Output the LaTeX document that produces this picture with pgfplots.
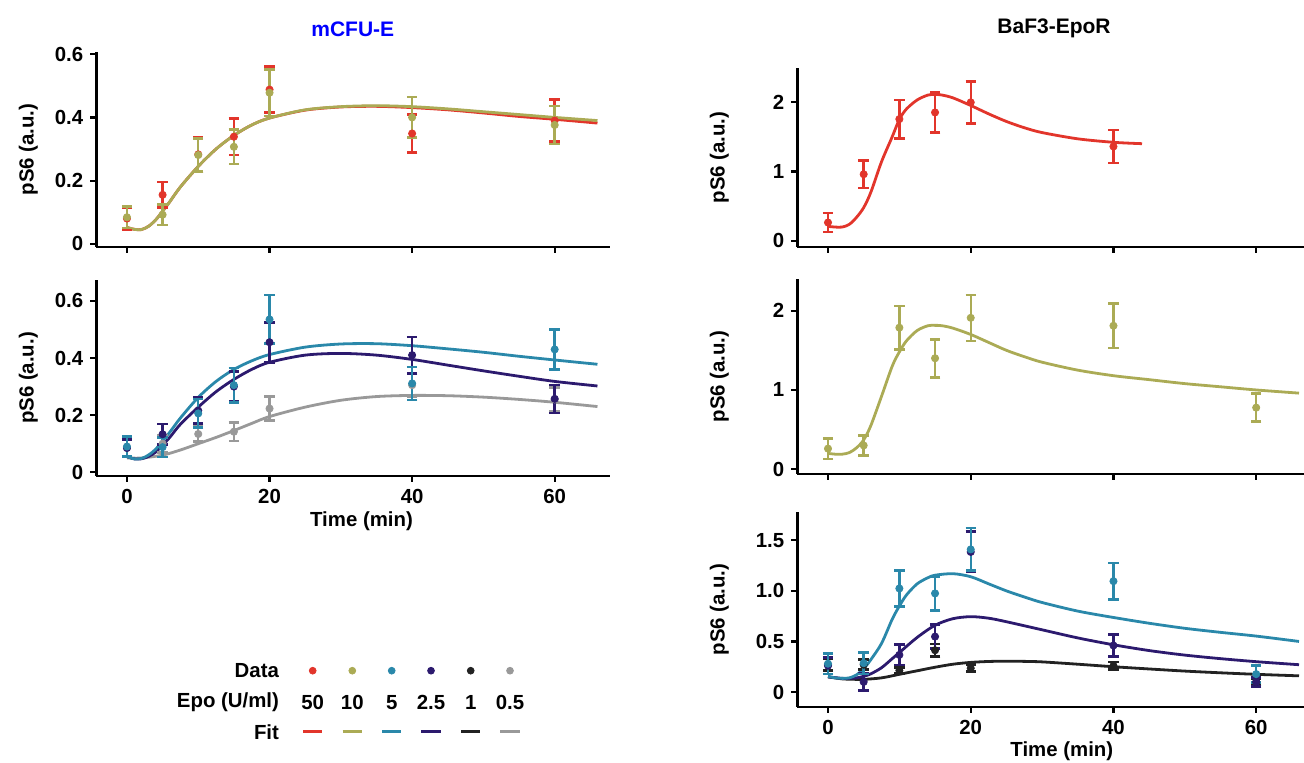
\documentclass[border=0pt]{standalone}
\usepackage{fontspec}
\setmainfont{Liberation Sans}
\usepackage{pgfplots}
\pgfplotsset{compat=1.18}
\definecolor{cR}{HTML}{E2352B}
\definecolor{cO}{HTML}{ABAB55}
\definecolor{cT}{HTML}{2A88AA}
\definecolor{cP}{HTML}{2C1A6E}
\definecolor{cK}{HTML}{222222}
\definecolor{cG}{HTML}{999999}
\newcommand{\fs}{\fontsize{10.2}{12}\selectfont\bfseries}
\newcommand{\ft}{\fontsize{10.5}{12}\selectfont\bfseries}
\pgfplotsset{
  panel/.style={
    scale only axis, axis lines*=left,
    axis line style={line width=1.4pt,-},
    xmin=-4.3, xtick={0,20,40,60},
    tick align=outside, major tick length=3pt,
    tick style={line width=1.1pt,black},
    ticklabel style={font=\fs},
    label style={font=\fs},
    clip=false,
  },
  dat/.style={only marks, mark=*, mark size=1.8pt, color=#1,
    error bars/.cd, y dir=both, y explicit,
    error bar style={line width=1.2pt,#1},
    error mark options={mark size=2.6pt,line width=1.3pt,#1,rotate=90}},
  fit/.style={no marks, smooth, line width=1.4pt, color=#1},
}
\begin{document}
\begin{tikzpicture}
\useasboundingbox (0,0) rectangle (652pt,381.5pt);
% ---------------- left top
\begin{axis}[panel, at={(48.15pt,258pt)}, anchor=south west, width=257pt, height=97.5pt,
  xmax=67.8, ymin=-0.01, ymax=0.607, ytick={0,0.2,0.4,0.6}, yticklabels={0,0.2,0.4,0.6},
  xticklabels={}, ylabel={pS6 (a.u.)},
  ylabel style={at={(axis description cs:-0.132,0.5)},anchor=center}]
\addplot[fit=cR] coordinates {(0,0.052) (1,0.046) (2,0.045) (3,0.055) (4,0.075) (5,0.103) (6,0.133) (7.5,0.18) (10,0.245) (12.5,0.3) (15,0.343) (17.5,0.376) (20,0.398) (25,0.423) (30,0.433) (35,0.435) (40,0.431) (45,0.424) (50,0.414) (55,0.403) (60,0.394) (66,0.382)};
\addplot[fit=cO] coordinates {(0,0.052) (1,0.046) (2,0.045) (3,0.055) (4,0.075) (5,0.103) (6,0.133) (7.5,0.18) (10,0.245) (12.5,0.3) (15,0.343) (17.5,0.376) (20,0.398) (25,0.424) (30,0.434) (35,0.437) (40,0.434) (45,0.427) (50,0.418) (55,0.409) (60,0.4) (66,0.39)};
\addplot[dat=cR] coordinates {(0,0.08) +- (0,0.035) (5,0.155) +- (0,0.04) (10,0.283) +- (0,0.055) (15,0.339) +- (0,0.058) (20,0.488) +- (0,0.073) (40,0.349) +- (0,0.06) (60,0.39) +- (0,0.066)};
\addplot[dat=cO] coordinates {(0,0.084) +- (0,0.034) (5,0.092) +- (0,0.033) (10,0.281) +- (0,0.053) (15,0.307) +- (0,0.055) (20,0.478) +- (0,0.074) (40,0.4) +- (0,0.064) (60,0.376) +- (0,0.06)};
\end{axis}
% ---------------- left bottom
\begin{axis}[panel, at={(48.15pt,143.5pt)}, anchor=south west, width=257pt, height=98pt,
  xmax=67.8, ymin=-0.013, ymax=0.673, ytick={0,0.2,0.4,0.6}, yticklabels={0,0.2,0.4,0.6},
  xticklabels={0,20,40,60}, ylabel={pS6 (a.u.)}, xlabel={Time (min)},
  ylabel style={at={(axis description cs:-0.132,0.5)},anchor=center},
  xlabel style={at={(axis description cs:0.516,0)},anchor=center,yshift=-22.5pt}]
\addplot[fit=cG] coordinates {(0,0.05) (2,0.05) (5,0.06) (7.5,0.078) (10,0.1) (12.5,0.122) (15,0.146) (17.5,0.171) (20,0.195) (25,0.228) (30,0.252) (35,0.265) (40,0.269) (45,0.268) (50,0.263) (55,0.255) (60,0.245) (66,0.23)};
\addplot[fit=cP] coordinates {(0,0.055) (1,0.047) (2,0.047) (3,0.055) (4,0.07) (5,0.095) (6,0.122) (7.5,0.168) (10,0.228) (12.5,0.282) (15,0.325) (17.5,0.36) (20,0.385) (25,0.41) (30,0.416) (35,0.41) (40,0.395) (45,0.375) (50,0.355) (55,0.336) (60,0.318) (66,0.302)};
\addplot[fit=cT] coordinates {(0,0.055) (1,0.047) (2,0.048) (3,0.06) (4,0.08) (5,0.11) (6,0.14) (7.5,0.19) (10,0.262) (12.5,0.318) (15,0.36) (17.5,0.39) (20,0.412) (25,0.438) (30,0.449) (35,0.45) (40,0.443) (45,0.432) (50,0.42) (55,0.406) (60,0.393) (66,0.378)};
\addplot[dat=cG] coordinates {(0,0.085) +- (0,0.03) (5,0.1) +- (0,0.03) (10,0.134) +- (0,0.027) (15,0.142) +- (0,0.033) (20,0.223) +- (0,0.042) (40,0.305) +- (0,0.04) (60,0.255) +- (0,0.042)};
\addplot[dat=cP] coordinates {(0,0.085) +- (0,0.03) (5,0.133) +- (0,0.036) (10,0.216) +- (0,0.045) (15,0.3) +- (0,0.053) (20,0.455) +- (0,0.07) (40,0.41) +- (0,0.064) (60,0.257) +- (0,0.049)};
\addplot[dat=cT] coordinates {(0,0.09) +- (0,0.035) (5,0.088) +- (0,0.034) (10,0.206) +- (0,0.05) (15,0.305) +- (0,0.06) (20,0.535) +- (0,0.085) (40,0.311) +- (0,0.058) (60,0.43) +- (0,0.07)};
\end{axis}
% ---------------- right top
\begin{axis}[panel, at={(398.65pt,258pt)}, anchor=south west, width=253.35pt, height=89.5pt,
  xmax=66.7, ymin=-0.087, ymax=2.49, ytick={0,1,2}, yticklabels={0,1,2},
  xticklabels={}, ylabel={pS6 (a.u.)},
  ylabel style={at={(axis description cs:-0.154,0.5)},anchor=center}]
\addplot[fit=cR] coordinates {(0,0.21) (1,0.2) (2,0.2) (3,0.24) (4,0.34) (5,0.48) (6,0.7) (7.5,1.14) (9,1.5) (10,1.75) (11,1.9) (12.5,2.03) (14,2.1) (15,2.11) (16,2.1) (17.5,2.06) (20,1.95) (22.5,1.83) (25,1.72) (27.5,1.63) (30,1.56) (35,1.47) (40,1.42) (44,1.4)};
\addplot[dat=cR] coordinates {(0,0.265) +- (0,0.135) (5,0.96) +- (0,0.2) (10,1.754) +- (0,0.275) (15,1.85) +- (0,0.285) (20,1.995) +- (0,0.3) (40,1.36) +- (0,0.236)};
\end{axis}
% ---------------- right middle
\begin{axis}[panel, at={(398.65pt,144.5pt)}, anchor=south west, width=253.35pt, height=97.5pt,
  xmax=66.7, ymin=-0.06, ymax=2.40, ytick={0,1,2}, yticklabels={0,1,2},
  xticklabels={}, ylabel={pS6 (a.u.)},
  ylabel style={at={(axis description cs:-0.154,0.5)},anchor=center}]
\addplot[fit=cO] coordinates {(0,0.2) (1,0.19) (2,0.19) (3,0.21) (4,0.27) (5,0.37) (6,0.55) (7.5,0.92) (9,1.3) (10,1.48) (11,1.62) (12.5,1.75) (14,1.81) (15,1.815) (16,1.81) (17.5,1.78) (20,1.7) (22.5,1.6) (25,1.5) (27.5,1.42) (30,1.35) (35,1.25) (40,1.18) (45,1.13) (50,1.08) (55,1.04) (60,1.0) (66,0.96)};
\addplot[dat=cO] coordinates {(0,0.26) +- (0,0.13) (5,0.3) +- (0,0.125) (10,1.786) +- (0,0.275) (15,1.4) +- (0,0.24) (20,1.91) +- (0,0.29) (40,1.81) +- (0,0.28) (60,0.777) +- (0,0.175)};
\end{axis}
% ---------------- right bottom
\begin{axis}[panel, at={(398.65pt,28pt)}, anchor=south west, width=253.35pt, height=97.5pt,
  xmax=66.7, ymin=-0.148, ymax=1.78, ytick={0,0.5,1,1.5}, yticklabels={0,0.5,1.0,1.5},
  xticklabels={0,20,40,60}, ylabel={pS6 (a.u.)}, xlabel={Time (min)},
  ylabel style={at={(axis description cs:-0.154,0.5)},anchor=center},
  xlabel style={at={(axis description cs:0.522,0)},anchor=center,yshift=-22pt}]
\addplot[fit=cK] coordinates {(0,0.15) (2,0.13) (4,0.125) (5,0.125) (7.5,0.14) (10,0.175) (12.5,0.21) (15,0.245) (17.5,0.275) (20,0.293) (22.5,0.302) (25,0.305) (27.5,0.303) (30,0.298) (35,0.275) (40,0.25) (45,0.228) (50,0.207) (55,0.19) (60,0.175) (66,0.16)};
\addplot[fit=cP] coordinates {(0,0.15) (2,0.135) (3,0.135) (4,0.14) (5,0.155) (6,0.18) (7.5,0.24) (9,0.33) (10,0.39) (12.5,0.54) (15,0.66) (17.5,0.725) (20,0.745) (22.5,0.73) (25,0.695) (30,0.615) (35,0.535) (40,0.467) (45,0.41) (50,0.365) (55,0.33) (60,0.3) (66,0.27)};
\addplot[fit=cT] coordinates {(0,0.155) (1,0.14) (2,0.135) (3,0.14) (4,0.17) (5,0.23) (6,0.32) (7.5,0.48) (9,0.72) (10,0.85) (11,0.96) (12.5,1.07) (14,1.13) (15,1.155) (17.5,1.17) (20,1.14) (22.5,1.07) (25,1.0) (27.5,0.94) (30,0.885) (35,0.8) (40,0.737) (45,0.68) (50,0.63) (55,0.59) (60,0.553) (66,0.5)};
\addplot[dat=cK] coordinates {(0,0.27) +- (0,0.06) (5,0.27) +- (0,0.05) (10,0.213) +- (0,0.03) (15,0.413) +- (0,0.06) (20,0.236) +- (0,0.035) (40,0.26) +- (0,0.035) (60,0.1) +- (0,0.03)};
\addplot[dat=cP] coordinates {(0,0.26) +- (0,0.08) (5,0.1) +- (0,0.085) (10,0.367) +- (0,0.1) (15,0.548) +- (0,0.12) (20,1.385) +- (0,0.2) (40,0.46) +- (0,0.11) (60,0.1) +- (0,0.045)};
\addplot[dat=cT] coordinates {(0,0.28) +- (0,0.1) (5,0.285) +- (0,0.105) (10,1.024) +- (0,0.18) (15,0.975) +- (0,0.17) (20,1.41) +- (0,0.21) (40,1.096) +- (0,0.18) (60,0.177) +- (0,0.085)};
\end{axis}
% ---------------- overlay: titles and legend (pixel coordinates)
\begin{axis}[at={(0,0)}, anchor=south west, scale only axis, width=652pt, height=381.5pt,
  xmin=0, xmax=1304, ymin=0, ymax=763, y dir=reverse, hide axis, clip=false]
\node[font=\ft, text=blue] at (axis cs:352.8,29) {mCFU-E};
\node[font=\ft] at (axis cs:1054,28) {BaF3-EpoR};
\node[font=\fs, anchor=east] at (axis cs:286,670.7) {Data};
\node[font=\fs, anchor=east] at (axis cs:286,702.3) {Epo (U/ml)};
\node[font=\fs, anchor=east] at (axis cs:286,731.7) {Fit};
\addplot[only marks, mark=*, mark size=1.7pt, cR] coordinates {(312.7,670.7)};
\addplot[only marks, mark=*, mark size=1.7pt, cO] coordinates {(352.3,670.7)};
\addplot[only marks, mark=*, mark size=1.7pt, cT] coordinates {(391.7,670.7)};
\addplot[only marks, mark=*, mark size=1.7pt, cP] coordinates {(431,670.7)};
\addplot[only marks, mark=*, mark size=1.7pt, cK] coordinates {(470.7,670.7)};
\addplot[only marks, mark=*, mark size=1.7pt, cG] coordinates {(510,670.7)};
\node[font=\fs] at (axis cs:312.7,702.3) {50};
\node[font=\fs] at (axis cs:352.3,702.3) {10};
\node[font=\fs] at (axis cs:391.7,702.3) {5};
\node[font=\fs] at (axis cs:431,702.3) {2.5};
\node[font=\fs] at (axis cs:470.7,702.3) {1};
\node[font=\fs] at (axis cs:510,702.3) {0.5};
\addplot[cR, line width=1.3pt] coordinates {(303,731.7) (322.4,731.7)};
\addplot[cO, line width=1.3pt] coordinates {(342.6,731.7) (362,731.7)};
\addplot[cT, line width=1.3pt] coordinates {(382,731.7) (401.4,731.7)};
\addplot[cP, line width=1.3pt] coordinates {(421.3,731.7) (440.7,731.7)};
\addplot[cK, line width=1.3pt] coordinates {(461,731.7) (480.4,731.7)};
\addplot[cG, line width=1.3pt] coordinates {(500.3,731.7) (519.7,731.7)};
\end{axis}
\end{tikzpicture}
\end{document}
